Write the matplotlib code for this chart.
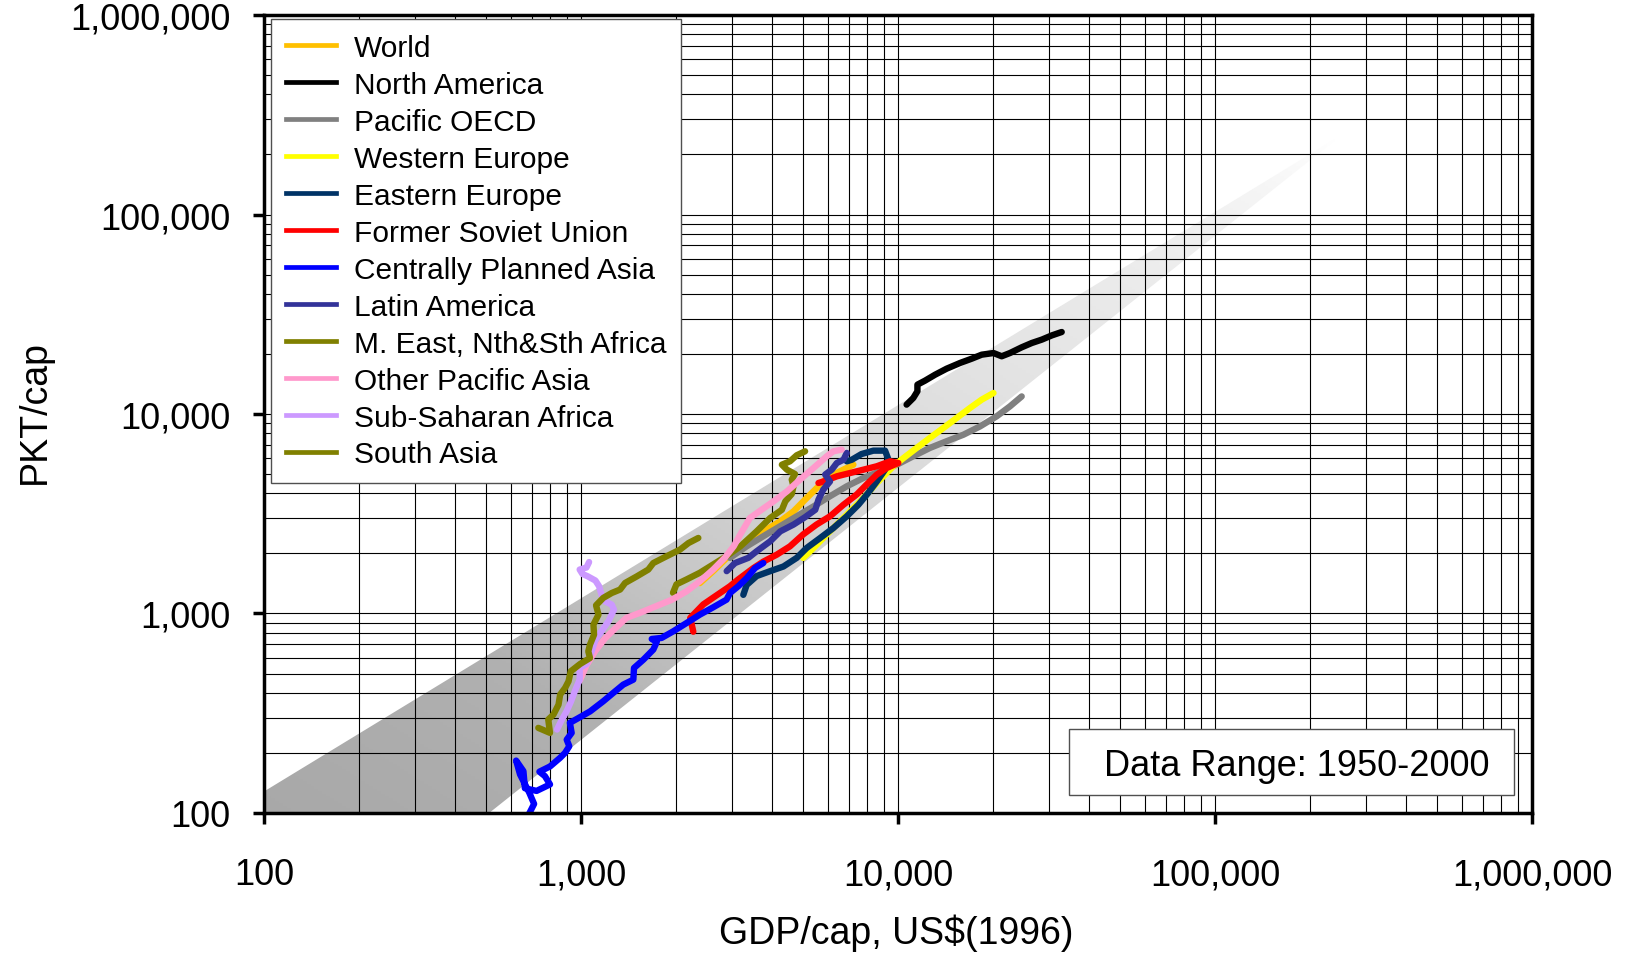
import numpy as np
import matplotlib.pyplot as plt
from matplotlib.patches import Polygon, Rectangle
from matplotlib.lines import Line2D
from matplotlib.ticker import LogLocator, FuncFormatter, NullFormatter

plt.rcParams['font.family'] = ['Liberation Sans', 'DejaVu Sans']

# GDP/cap (US$1996) vs PKT/cap, 1950-2000
world_gdp = [2370, 2610, 2950, 3330, 3760, 4250, 4680, 5090, 5480, 5890, 6490, 7230]
world_pkt = [1420, 1630, 1970, 2250, 2580, 2900, 3250, 3720, 4180, 4690, 5120, 5570]

na_gdp = [10640, 11170, 11510, 11510, 12160, 13090, 14230, 15700, 17070, 18360,
          20000, 21230, 22540, 24550, 26410, 28400, 30550, 32830]
na_pkt = [11140, 12030, 13000, 14030, 14690, 15740, 16870, 18030, 18930, 19830,
          20210, 19470, 20210, 21590, 22690, 23590, 24770, 25760]

pao_gdp = [2950, 3330, 3760, 4250, 4790, 5410, 6100, 6890, 7780, 8770, 9910,
           11170, 12610, 14220, 16070, 18150, 20460, 22540, 24550]
pao_pkt = [1900, 2170, 2440, 2740, 3070, 3440, 3870, 4340, 4780, 5160, 5570,
           6140, 6760, 7300, 7870, 8670, 9730, 10920, 12250]

weu_gdp = [5020, 5410, 5960, 6410, 6890, 7410, 7960, 8570, 9100, 9660, 10400,
           11450, 12610, 13900, 15310, 16870, 18360, 20000]
weu_pkt = [1900, 2130, 2490, 2790, 3130, 3510, 3950, 4510, 4970, 5470, 6010,
           6760, 7590, 8510, 9550, 10720, 11800, 12740]

eeu_gdp = [3250, 3330, 3580, 3950, 4350, 4790, 5150, 5680, 6250, 6890, 7500,
           8050, 8570, 9100, 9330, 9100, 8360, 7670, 7150, 6890]
eeu_pkt = [1240, 1390, 1540, 1630, 1720, 1900, 2130, 2390, 2680, 3070, 3510,
           4020, 4590, 5260, 5900, 6550, 6550, 6300, 5900, 5790]

fsu_gdp = [2260, 2210, 2430, 2610, 2950, 3130, 3500, 3760, 4140, 4560, 5020,
           5530, 6100, 6730, 7410, 7960, 8570, 9200, 10020, 9440, 8570, 7780,
           7060, 6410, 5820, 5610]
fsu_pkt = [810, 950, 1110, 1200, 1370, 1480, 1690, 1820, 1970, 2170, 2490,
           2790, 3070, 3510, 3950, 4430, 4970, 5360, 5680, 5790, 5470, 5260,
           5060, 4870, 4590, 4510]

cpa_gdp = [674, 711, 687, 642, 624, 658, 665, 724, 798, 769, 739, 798, 859, 890,
           918, 901, 934, 922, 981, 1068, 1175, 1264, 1359, 1462, 1469, 1573,
           1690, 1733, 1671, 1795, 1954, 2153, 2371, 2612, 2877, 2951, 3133,
           3334, 3539, 3758]
cpa_pkt = [94, 111, 126, 156, 183, 162, 133, 129, 139, 153, 161, 171, 189, 200,
           216, 233, 252, 283, 299, 323, 363, 400, 440, 466, 533, 587, 659, 720,
           745, 754, 814, 896, 987, 1074, 1173, 1267, 1369, 1507, 1690, 1790]

lam_gdp = [2880, 3060, 3370, 3580, 3950, 4250, 4680, 5090, 5480, 5610, 5810,
           6100, 5890, 6180, 6410, 6730, 6890]
lam_pkt = [1630, 1790, 1900, 2050, 2300, 2580, 2790, 3040, 3310, 3720, 4180,
           4590, 4970, 5260, 5680, 5900, 6380]

mea_gdp = [1950, 2000, 2150, 2370, 2610, 2880, 3180, 3580, 3950, 4300, 4410,
           4620, 4680, 4620, 4730, 4460, 4300, 4560, 4790, 5090]
mea_pkt = [1270, 1400, 1480, 1600, 1760, 1940, 2170, 2580, 3010, 3310, 3650,
           3970, 4340, 4690, 5000, 5260, 5570, 5790, 6210, 6500]

pas_gdp = [990, 1040, 1110, 1190, 1290, 1390, 1540, 1730, 1930, 2150, 2370,
           2610, 2840, 3030, 3180, 3410, 3720, 4050, 4460, 4910, 5410, 5960,
           6250, 6640]
pas_pkt = [460, 550, 650, 750, 850, 950, 1010, 1090, 1170, 1290, 1450, 1660,
           1900, 2170, 2490, 3010, 3320, 3650, 4090, 4690, 5360, 6140, 6500, 6630]

afr_gdp = [840, 870, 900, 930, 960, 990, 990, 1040, 1080, 1110, 1160, 1220, 1270,
           1250, 1190, 1160, 1140, 1110, 1050, 1010, 990, 1040, 1060]
afr_pkt = [262, 294, 323, 363, 415, 466, 533, 558, 646, 739, 814, 914, 1045,
           1107, 1150, 1242, 1369, 1462, 1535, 1578, 1660, 1700, 1810]

sas_gdp = [733, 798, 788, 818, 849, 859, 891, 913, 928, 993, 1067, 1054, 1067,
           1099, 1094, 1135, 1115, 1175, 1250, 1328, 1377, 1500, 1630, 1690,
           1862, 2051, 2182, 2344]
sas_pkt = [267, 252, 294, 311, 349, 392, 424, 457, 513, 558, 598, 646, 698, 783,
           879, 987, 1099, 1197, 1267, 1318, 1422, 1535, 1660, 1790, 1936, 2089,
           2254, 2391]

series = [
    ('World', world_gdp, world_pkt, '#FFC000'),
    ('North America', na_gdp, na_pkt, '#000000'),
    ('Pacific OECD', pao_gdp, pao_pkt, '#808080'),
    ('Western Europe', weu_gdp, weu_pkt, '#FFFF00'),
    ('Eastern Europe', eeu_gdp, eeu_pkt, '#003366'),
    ('Former Soviet Union', fsu_gdp, fsu_pkt, '#FF0000'),
    ('Centrally Planned Asia', cpa_gdp, cpa_pkt, '#0000FF'),
    ('Latin America', lam_gdp, lam_pkt, '#333399'),
    ('M. East, Nth&Sth Africa', mea_gdp, mea_pkt, '#808000'),
    ('Other Pacific Asia', pas_gdp, pas_pkt, '#FF99CC'),
    ('Sub-Saharan Africa', afr_gdp, afr_pkt, '#CC99FF'),
    ('South Asia', sas_gdp, sas_pkt, '#808000'),
]

# shaded envelope (wedge) behind the data
band_gdp = [79, 253000, 426, 79]
band_pkt = [102, 253000, 79, 79]

fig = plt.figure(figsize=(16.25, 9.54), dpi=100)
ax = fig.add_axes([0.1625, 0.1468, 0.7803, 0.8364])
ax.set_xscale('log')
ax.set_yscale('log')
ax.set_xlim(100, 1e6)
ax.set_ylim(100, 1e6)

# gradient fill clipped to the wedge, fading out toward the tip
edges = np.logspace(1.9, 5.6, 301)
lc = np.log10(edges)
lc = (lc[:-1] + lc[1:]) / 2
LX, LY = np.meshgrid(lc, lc)
shade = np.interp(LX + LY, [4.1, 5.5, 6.4, 7.6, 8.6, 9.7, 10.3, 10.8],
                  [0.66, 0.69, 0.77, 0.85, 0.89, 0.93, 0.96, 1.0])
mesh = ax.pcolormesh(edges, edges, shade, cmap='gray', vmin=0, vmax=1,
                     shading='flat', edgecolors='none', antialiased=False, zorder=0.5)
wedge = Polygon(np.column_stack([band_gdp, band_pkt]), closed=True,
                transform=ax.transData, facecolor='none', edgecolor='none')
mesh.set_clip_path(wedge)

for name, gx, gy, col in series:
    ax.plot(gx, gy, color=col, lw=4.6, solid_capstyle='round',
            solid_joinstyle='round', zorder=2)

ax.set_axisbelow('line')
ax.xaxis.set_minor_locator(LogLocator(base=10, subs=range(2, 10), numticks=20))
ax.yaxis.set_minor_locator(LogLocator(base=10, subs=range(2, 10), numticks=20))
ax.xaxis.set_minor_formatter(NullFormatter())
ax.yaxis.set_minor_formatter(NullFormatter())
ax.xaxis.set_major_locator(LogLocator(base=10, numticks=10))
ax.yaxis.set_major_locator(LogLocator(base=10, numticks=10))
fmt = FuncFormatter(lambda v, p: f'{v:,.0f}')
ax.xaxis.set_major_formatter(fmt)
ax.yaxis.set_major_formatter(fmt)
ax.grid(True, which='both', color='black', linewidth=0.8)
ax.tick_params(which='minor', length=0)
ax.tick_params(which='major', direction='out', length=8, width=2.5, labelsize=26)
ax.tick_params(axis='x', pad=24)
ax.tick_params(axis='y', pad=16)
for s in ax.spines.values():
    s.set_linewidth(2.5)
    s.set_color('black')

fig.text(896 / 1625, 1 - 944.5 / 954, 'GDP/cap, US$(1996)', fontsize=27,
         ha='center', va='baseline')
fig.text(35 / 1625, 1 - 412 / 954, 'PKT/cap', fontsize=27, rotation=90,
         ha='center', va='center')

handles = [Line2D([], [], color=c, lw=3.4) for _, _, _, c in series]
labels = [n for n, _, _, _ in series]
leg = ax.legend(handles, labels, loc='upper left', bbox_to_anchor=(0.0055, 0.995),
                borderaxespad=0, fontsize=21.5, handlelength=1.68, handletextpad=0.6,
                borderpad=0.5, labelspacing=0.3, fancybox=False, framealpha=1)
leg.get_frame().set_edgecolor('#505050')
leg.get_frame().set_linewidth(1.0)

ax.add_patch(Rectangle((0.6349, 0.0226), 0.351, 0.0828, transform=ax.transAxes,
                       facecolor='white', edgecolor='#505050', lw=1, zorder=4))
ax.text(0.8142, 0.0477, 'Data Range: 1950-2000', transform=ax.transAxes,
        fontsize=26, ha='center', va='baseline', zorder=5)

fig.savefig('out.png', dpi=100)
